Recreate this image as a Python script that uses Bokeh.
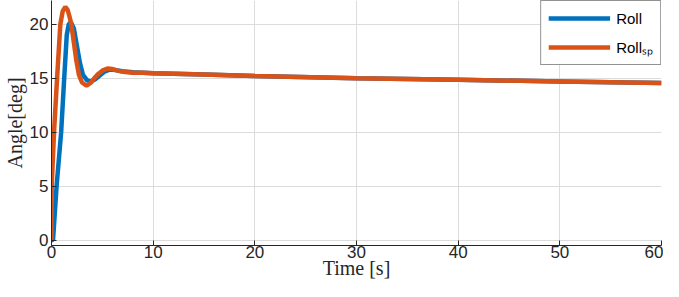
from bokeh.plotting import figure
from bokeh.models import Range1d, FixedTicker, Legend, LegendItem
from bokeh.embed import file_html
from bokeh.resources import INLINE

# Roll (measured) — blue
roll_t = [0.0, 0.15, 0.5, 0.95, 1.25, 1.5, 1.7, 1.9, 2.2, 2.5, 2.8, 3.1, 3.5, 3.9,
          4.3, 4.8, 5.2, 5.7, 6.3, 7.0, 8.0, 9.0, 10.0, 15.0, 20.0, 30.0, 40.0, 50.0, 60.0]
roll_v = [0.0, 0.0, 5.0, 10.0, 15.0, 19.0, 20.0, 20.2, 19.6, 18.0, 16.4, 15.3, 14.8, 14.7,
          14.9, 15.3, 15.6, 15.8, 15.75, 15.65, 15.55, 15.5, 15.45, 15.35, 15.2, 15.0, 14.85, 14.7, 14.55]

# Roll setpoint — orange
sp_t = [0.0, 0.02, 0.25, 0.55, 0.87, 1.1, 1.36, 1.6, 1.8, 1.95, 2.2, 2.45, 2.7, 3.0, 3.45,
        3.9, 4.2, 4.6, 5.0, 5.5, 6.0, 6.5, 7.0, 8.0, 9.0, 10.0, 15.0, 20.0, 30.0, 40.0, 50.0, 60.0]
sp_v = [0.0, 5.0, 10.0, 15.0, 20.0, 21.2, 21.6, 21.3, 20.6, 20.0, 18.3, 16.6, 15.3, 14.6, 14.3,
        14.6, 15.0, 15.4, 15.7, 15.9, 15.85, 15.7, 15.6, 15.5, 15.5, 15.45, 15.35, 15.2, 15.0, 14.85, 14.7, 14.55]

x_ticks = [0, 10, 20, 30, 40, 50, 60]
y_ticks = [0, 5, 10, 15, 20]

BLUE = "#0072BD"
ORANGE = "#D95319"
AX = "#262626"

p = figure(width=663, height=281, output_backend="svg", toolbar_location=None,
           x_range=Range1d(0, 60), y_range=Range1d(-0.5, 22.2),
           min_border_left=40, min_border_right=2, min_border_top=0, min_border_bottom=10)
p.outline_line_color = None
p.background_fill_color = "white"
p.border_fill_color = "white"

for ax in (p.xaxis, p.yaxis):
    ax.axis_line_color = AX
    ax.major_tick_line_color = AX
    ax.major_tick_in = 5
    ax.major_tick_out = 0
    ax.minor_tick_line_color = None
    ax.major_label_text_font = "Liberation Sans"
    ax.major_label_text_font_size = "17px"
    ax.major_label_text_color = AX
    ax.axis_label_text_font = "Liberation Serif"
    ax.axis_label_text_font_style = "normal"
    ax.axis_label_text_font_size = "20px"
    ax.axis_label_text_color = AX

p.xaxis.ticker = FixedTicker(ticks=x_ticks)
p.yaxis.ticker = FixedTicker(ticks=y_ticks)
p.xaxis.axis_label = "Time [s]"
p.yaxis.axis_label = "Angle[deg]"
p.xaxis.major_label_standoff = 0
p.xaxis.axis_label_standoff = -4
p.yaxis.major_label_standoff = 3
p.yaxis.axis_label_standoff = 1

p.xgrid.ticker = FixedTicker(ticks=x_ticks)
p.ygrid.ticker = FixedTicker(ticks=y_ticks)
p.grid.grid_line_color = "#dcdcdc"
p.grid.grid_line_width = 1

r1 = p.line(roll_t, roll_v, line_color=BLUE, line_width=4.5)
r2 = p.line(sp_t, sp_v, line_color=ORANGE, line_width=4.5)

legend = Legend(items=[LegendItem(label="Roll", renderers=[r1]),
                       LegendItem(label="Rollₛₚ", renderers=[r2])],
                location="top_right")
legend.margin = 0
legend.padding = 7
legend.spacing = 9
legend.glyph_width = 62
legend.glyph_height = 20
legend.label_height = 20
legend.label_standoff = 6
legend.label_text_font = "Liberation Sans"
legend.label_text_font_size = "15px"
legend.label_text_color = "black"
legend.border_line_color = AX
legend.border_line_width = 1
legend.background_fill_alpha = 1
p.add_layout(legend)

open("out.html", "w").write(file_html(p, INLINE))
